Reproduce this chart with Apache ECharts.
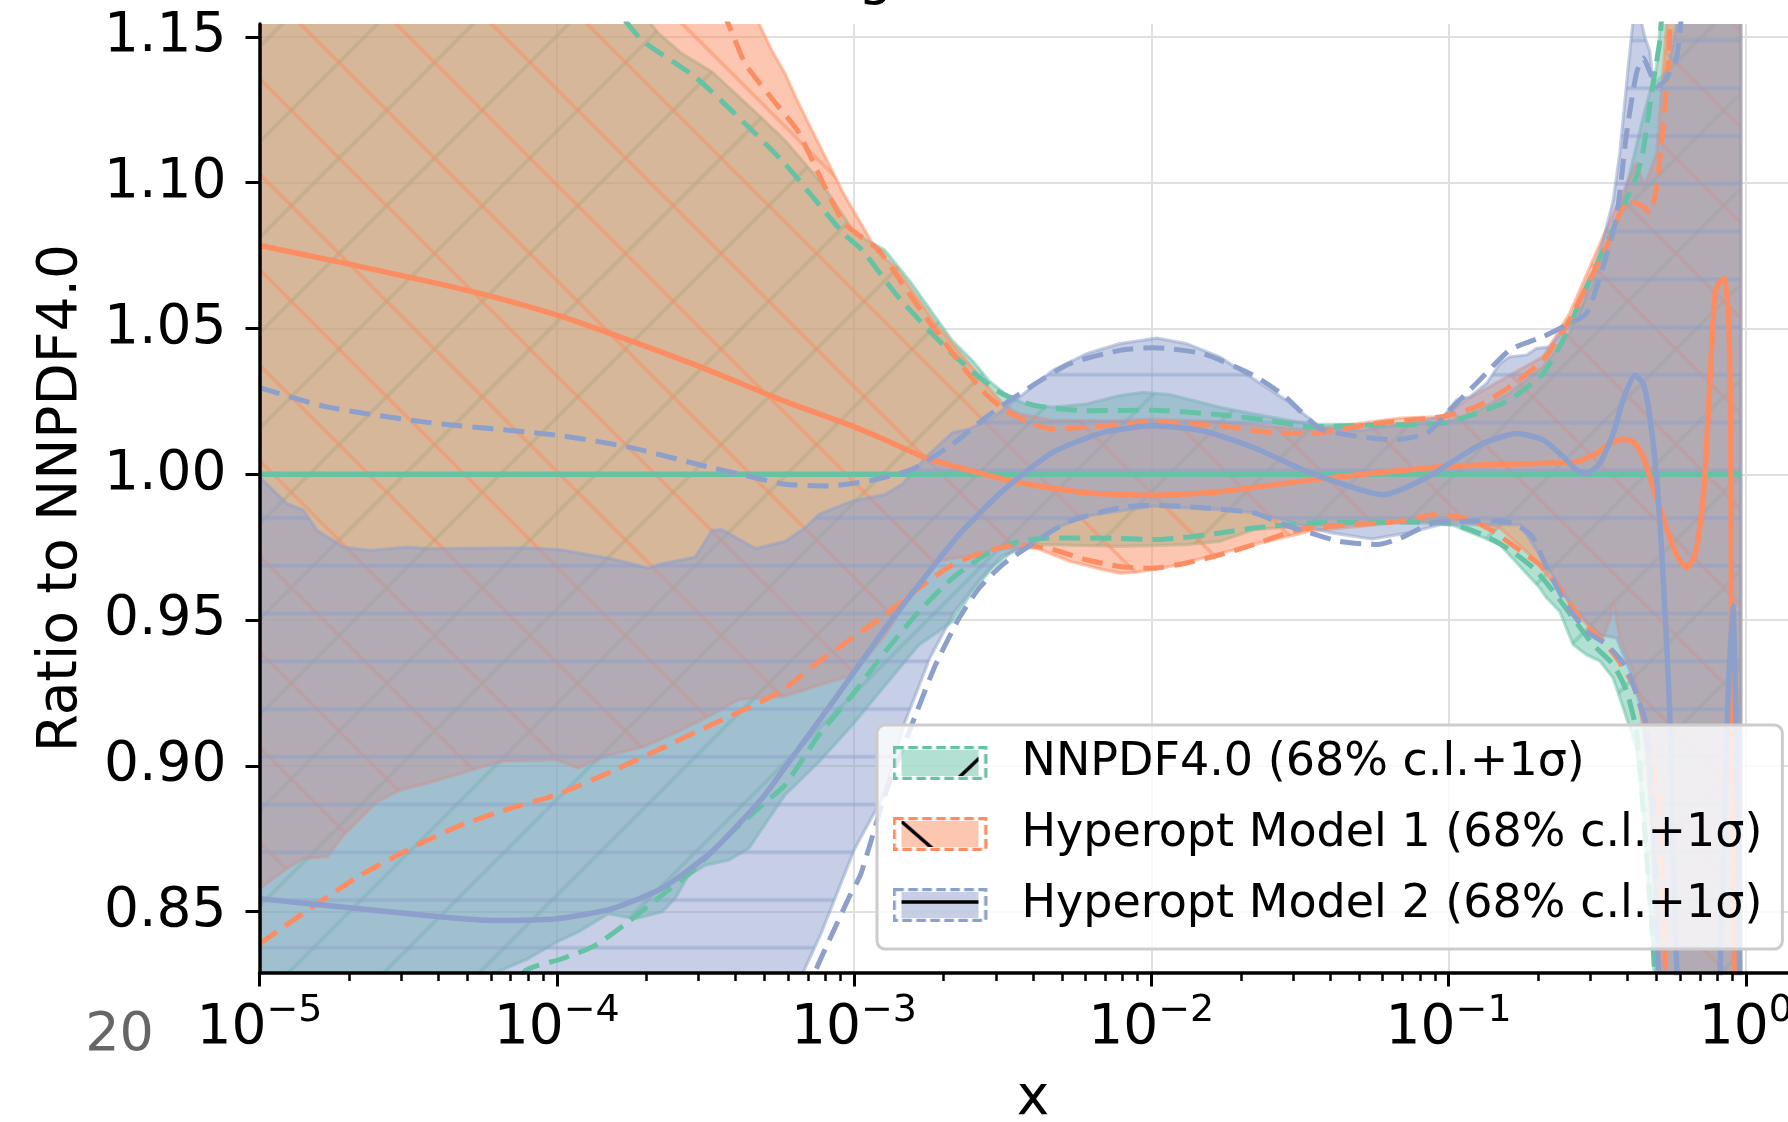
<!DOCTYPE html>
<html>
<head>
<meta charset="utf-8">
<title>g ratio to NNPDF4.0</title>
<script src="https://cdn.jsdelivr.net/npm/echarts@6.0.0/dist/echarts.min.js"></script>
<style>
    html, body { margin: 0; padding: 0; background: #fff; }
    #main { width: 1788px; height: 1122px; }
</style>
</head>
<body>
<div id="main"></div>
<script>
// every curve is a list of [log10(x), ratio]
var nnCentral = [[-5.0, 1.0], [-0.017, 1.0]];
var nnBandUp = [[-5.0,1.25],[-3.727,1.16],[-3.658,1.1512],[-3.580,1.1443],[-3.478,1.138],[-3.309,1.122],[-3.232,1.1144],[-3.111,1.1001],[-2.996,1.0825],[-2.897,1.0769],[-2.806,1.0654],[-2.726,1.0539],[-2.670,1.0459],[-2.602,1.039],[-2.546,1.0321],[-2.478,1.0264],[-2.422,1.0241],[-2.332,1.023],[-2.219,1.0241],[-2.106,1.027],[-2.028,1.0281],[-1.937,1.0273],[-1.769,1.023],[-1.656,1.0207],[-1.467,1.0172],[-1.245,1.017],[-1.018,1.0175],[-0.906,1.0215],[-0.794,1.028],[-0.682,1.0369],[-0.592,1.0484],[-0.513,1.0655],[-0.457,1.08],[-0.401,1.0986],[-0.345,1.1226],[-0.300,1.1398],[-0.282,1.16],[-0.017,1.25]];
var nnBandLo = [[-5.0,0.78],[-4.258,0.80],[-4.210,0.829],[-4.098,0.8338],[-4.001,0.8396],[-3.929,0.843],[-3.827,0.8493],[-3.737,0.8476],[-3.647,0.8499],[-3.602,0.8545],[-3.557,0.8625],[-3.500,0.866],[-3.422,0.8677],[-3.354,0.8717],[-3.309,0.8786],[-3.232,0.8901],[-3.119,0.9013],[-3.007,0.9139],[-2.895,0.9277],[-2.782,0.9415],[-2.669,0.9495],[-2.602,0.9598],[-2.534,0.9679],[-2.467,0.9736],[-2.388,0.976],[-2.240,0.9756],[-2.106,0.9753],[-1.881,0.9759],[-1.769,0.977],[-1.656,0.981],[-1.467,0.9825],[-1.164,0.9835],[-0.996,0.983],[-0.827,0.9759],[-0.693,0.961],[-0.670,0.9576],[-0.626,0.953],[-0.581,0.9416],[-0.536,0.9381],[-0.491,0.936],[-0.446,0.9301],[-0.401,0.9164],[-0.368,0.906],[-0.345,0.884],[-0.311,0.834],[-0.289,0.78],[-0.017,0.70]];
var nnSigUp = [[-5.0,1.30],[-3.805,1.16],[-3.714,1.1489],[-3.534,1.1362],[-3.366,1.1202],[-3.232,1.1064],[-3.035,1.0825],[-2.973,1.0769],[-2.861,1.062],[-2.759,1.0505],[-2.669,1.0413],[-2.579,1.0333],[-2.500,1.0275],[-2.388,1.0235],[-2.219,1.0218],[-1.994,1.022],[-1.769,1.0204],[-1.600,1.0184],[-1.467,1.0163],[-1.242,1.0169],[-1.018,1.0175],[-0.906,1.0209],[-0.794,1.0255],[-0.682,1.0346],[-0.615,1.046],[-0.536,1.0643],[-0.474,1.078],[-0.413,1.0918],[-0.368,1.102],[-0.345,1.1112],[-0.312,1.134],[-0.289,1.149],[-0.272,1.17],[-0.017,1.30]];
var nnSigLo = [[-4.225,0.81],[-4.109,0.8295],[-3.985,0.8338],[-3.872,0.8384],[-3.760,0.8465],[-3.647,0.8556],[-3.534,0.8648],[-3.422,0.8763],[-3.309,0.8866],[-3.232,0.8935],[-3.119,0.9105],[-3.007,0.9242],[-2.895,0.9392],[-2.782,0.9529],[-2.669,0.9644],[-2.557,0.9724],[-2.444,0.977],[-2.332,0.9782],[-2.106,0.978],[-1.994,0.9776],[-1.881,0.9784],[-1.769,0.9799],[-1.656,0.9816],[-1.467,0.9833],[-1.164,0.9836],[-0.996,0.983],[-0.885,0.9793],[-0.794,0.9741],[-0.715,0.9679],[-0.648,0.9599],[-0.581,0.9507],[-0.514,0.9416],[-0.446,0.9347],[-0.401,0.9256],[-0.368,0.9119],[-0.345,0.8844],[-0.312,0.8387],[-0.299,0.81]];

var m1Central = [[-5.0,1.0785],[-4.718,1.0725],[-4.290,1.0628],[-4.001,1.0547],[-3.839,1.049],[-3.534,1.0375],[-3.232,1.025],[-3.007,1.0166],[-2.913,1.0126],[-2.760,1.0057],[-2.602,1.0011],[-2.444,0.9971],[-2.219,0.9937],[-1.994,0.9928],[-1.769,0.994],[-1.467,0.998],[-1.019,1.0026],[-0.683,1.0038],[-0.569,1.0043],[-0.502,1.0072],[-0.457,1.0106],[-0.413,1.012],[-0.379,1.0112],[-0.345,1.006],[-0.323,0.9992],[-0.267,0.9816],[-0.233,0.9724],[-0.199,0.9679],[-0.171,0.9724],[-0.155,0.9816],[-0.138,0.9987],[-0.104,1.062],[-0.087,1.066],[-0.071,1.0672],[-0.056,1.048],[-0.050,0.998],[-0.047,0.914],[-0.040,0.85],[-0.034,0.80],[-0.017,0.78]];
var m1BandUp = [[-5.0,1.30],[-3.345,1.16],[-3.277,1.1454],[-3.232,1.1374],[-3.188,1.1275],[-3.035,1.0962],[-2.920,1.076],[-2.861,1.0712],[-2.726,1.0517],[-2.557,1.031],[-2.500,1.0241],[-2.444,1.0207],[-2.332,1.0184],[-2.106,1.0184],[-1.994,1.0189],[-1.769,1.018],[-1.467,1.0152],[-1.161,1.0193],[-1.018,1.0198],[-0.940,1.0255],[-0.794,1.034],[-0.682,1.0403],[-0.592,1.0553],[-0.480,1.0815],[-0.435,1.0918],[-0.390,1.102],[-0.368,1.1066],[-0.340,1.099],[-0.300,1.11],[-0.262,1.16],[-0.017,1.30]];
var m1BandLo = [[-5.0,0.8579],[-4.908,0.8648],[-4.852,0.8683],[-4.773,0.8688],[-4.717,0.8763],[-4.604,0.8878],[-4.525,0.8918],[-4.435,0.8941],[-4.322,0.8975],[-4.188,0.9016],[-4.001,0.9021],[-3.929,0.8993],[-3.839,0.9033],[-3.704,0.9067],[-3.591,0.9119],[-3.478,0.9176],[-3.388,0.9228],[-3.232,0.924],[-3.119,0.9277],[-3.007,0.9311],[-2.895,0.9449],[-2.812,0.958],[-2.726,0.9702],[-2.613,0.972],[-2.500,0.9747],[-2.388,0.9747],[-2.275,0.9702],[-2.163,0.9673],[-2.106,0.9661],[-2.050,0.9664],[-1.937,0.9684],[-1.825,0.9713],[-1.656,0.9759],[-1.467,0.9805],[-1.164,0.9835],[-0.940,0.984],[-0.827,0.9816],[-0.715,0.9713],[-0.626,0.96],[-0.536,0.9485],[-0.481,0.944],[-0.457,0.95],[-0.446,0.9564],[-0.424,0.9439],[-0.379,0.9324],[-0.345,0.9187],[-0.316,0.88],[-0.289,0.834],[-0.269,0.78],[-0.017,0.70]];
var m1SigUp = [[-5.0,1.30],[-3.455,1.16],[-3.366,1.1408],[-3.253,1.1259],[-3.189,1.1177],[-3.035,1.0864],[-2.917,1.0769],[-2.838,1.0654],[-2.759,1.0539],[-2.692,1.0448],[-2.624,1.0356],[-2.557,1.0275],[-2.489,1.0218],[-2.399,1.0172],[-2.332,1.0155],[-2.219,1.0161],[-1.994,1.0178],[-1.769,1.0166],[-1.600,1.0143],[-1.467,1.014],[-1.242,1.0175],[-1.018,1.0198],[-0.906,1.0232],[-0.794,1.03],[-0.682,1.0392],[-0.592,1.053],[-0.514,1.0689],[-0.469,1.078],[-0.424,1.0895],[-0.390,1.094],[-0.368,1.0929],[-0.345,1.0918],[-0.323,1.0895],[-0.300,1.0986],[-0.278,1.1192],[-0.261,1.1398],[-0.249,1.16],[-0.017,1.30]];
var m1SigLo = [[-5.0,0.839],[-4.831,0.851],[-4.661,0.8625],[-4.492,0.8717],[-4.323,0.8797],[-4.154,0.8855],[-4.001,0.8901],[-3.816,0.8981],[-3.647,0.9061],[-3.478,0.9142],[-3.309,0.9222],[-3.232,0.9266],[-3.119,0.9357],[-3.007,0.9438],[-2.895,0.9518],[-2.782,0.961],[-2.669,0.969],[-2.557,0.9736],[-2.444,0.9759],[-2.332,0.9742],[-2.219,0.9707],[-2.106,0.9684],[-1.994,0.9678],[-1.881,0.9696],[-1.769,0.9724],[-1.656,0.9759],[-1.543,0.9799],[-1.467,0.9816],[-1.164,0.9839],[-1.052,0.9861],[-0.940,0.985],[-0.850,0.9805],[-0.771,0.9747],[-0.693,0.969],[-0.626,0.961],[-0.558,0.9507],[-0.491,0.9439],[-0.435,0.9371],[-0.379,0.9278],[-0.357,0.921],[-0.323,0.9073],[-0.293,0.888],[-0.272,0.834],[-0.256,0.80],[-0.017,0.70]];

var m2Central = [[-5.0,0.8545],[-4.662,0.851],[-4.210,0.847],[-4.000,0.8476],[-3.816,0.851],[-3.647,0.858],[-3.478,0.8706],[-3.309,0.8889],[-3.232,0.8995],[-3.064,0.923],[-2.895,0.9472],[-2.782,0.9621],[-2.647,0.9793],[-2.500,0.9943],[-2.332,1.0075],[-2.163,1.0143],[-1.994,1.0166],[-1.825,1.0149],[-1.656,1.0092],[-1.467,1.0006],[-1.218,0.993],[-1.074,0.9988],[-0.962,1.006],[-0.884,1.0106],[-0.771,1.014],[-0.682,1.0118],[-0.614,1.006],[-0.570,1.0015],[-0.536,1.0003],[-0.491,1.0038],[-0.446,1.014],[-0.413,1.0255],[-0.373,1.034],[-0.345,1.031],[-0.323,1.0198],[-0.300,0.9987],[-0.278,0.9644],[-0.256,0.9187],[-0.232,0.83],[-0.188,0.78],[-0.114,0.78],[-0.081,0.85],[-0.061,0.92],[-0.044,0.955],[-0.034,0.92],[-0.024,0.85],[-0.017,0.80]];
var m2BandUp = [[-5.0,0.9991],[-4.908,0.990],[-4.852,0.9877],[-4.807,0.9808],[-4.717,0.975],[-4.627,0.9739],[-4.503,0.975],[-4.435,0.9745],[-4.098,0.9748],[-3.985,0.9741],[-3.816,0.971],[-3.692,0.9679],[-3.647,0.9693],[-3.534,0.9716],[-3.478,0.9808],[-3.444,0.981],[-3.331,0.9745],[-3.232,0.977],[-3.165,0.9816],[-3.119,0.9862],[-3.007,0.9908],[-2.895,0.9931],[-2.838,0.9966],[-2.760,1.0057],[-2.669,1.0143],[-2.613,1.0155],[-2.534,1.0195],[-2.444,1.0264],[-2.332,1.0356],[-2.219,1.0413],[-2.106,1.0448],[-1.982,1.0467],[-1.881,1.0448],[-1.769,1.0402],[-1.656,1.0327],[-1.543,1.0252],[-1.433,1.0163],[-1.298,1.015],[-1.164,1.017],[-1.018,1.0198],[-0.973,1.0255],[-0.928,1.0266],[-0.872,1.0312],[-0.827,1.038],[-0.794,1.0403],[-0.737,1.0409],[-0.704,1.0432],[-0.659,1.0437],[-0.614,1.0495],[-0.569,1.053],[-0.513,1.069],[-0.480,1.0803],[-0.446,1.094],[-0.424,1.11],[-0.401,1.134],[-0.379,1.156],[-0.362,1.16],[-0.340,1.15],[-0.323,1.145],[-0.312,1.134],[-0.289,1.1318],[-0.256,1.142],[-0.222,1.16],[-0.017,1.25]];
var m2BandLo = [[-5.0,0.70],[-3.190,0.81],[-3.172,0.829],[-3.111,0.8425],[-2.997,0.8718],[-2.899,0.89],[-2.829,0.915],[-2.745,0.937],[-2.661,0.953],[-2.577,0.964],[-2.502,0.972],[-2.399,0.9759],[-2.332,0.9811],[-2.219,0.9857],[-2.106,0.9874],[-1.994,0.9891],[-1.881,0.9885],[-1.769,0.9879],[-1.656,0.9868],[-1.543,0.984],[-1.399,0.98],[-1.258,0.9778],[-1.130,0.98],[-1.029,0.9827],[-0.939,0.9827],[-0.760,0.9827],[-0.693,0.9724],[-0.637,0.9633],[-0.581,0.9541],[-0.491,0.945],[-0.435,0.9439],[-0.390,0.9324],[-0.356,0.921],[-0.330,0.90],[-0.313,0.87],[-0.299,0.829],[-0.282,0.78],[-0.017,0.70]];
var m2SigUp = [[-5.0,1.0297],[-4.773,1.0231],[-4.435,1.0178],[-4.000,1.0134],[-3.760,1.0094],[-3.534,1.0036],[-3.366,0.9996],[-3.232,0.9966],[-3.086,0.996],[-2.951,0.9977],[-2.805,1.0017],[-2.669,1.0103],[-2.557,1.0195],[-2.444,1.0275],[-2.275,1.0379],[-2.106,1.0425],[-1.994,1.0434],[-1.825,1.0413],[-1.656,1.0339],[-1.550,1.0267],[-1.433,1.0157],[-1.298,1.0129],[-1.187,1.0118],[-1.074,1.014],[-0.996,1.022],[-0.906,1.0312],[-0.794,1.0426],[-0.682,1.0472],[-0.603,1.0512],[-0.536,1.0552],[-0.480,1.0712],[-0.435,1.0883],[-0.401,1.117],[-0.368,1.1375],[-0.345,1.1427],[-0.323,1.138],[-0.300,1.133],[-0.272,1.135],[-0.233,1.143],[-0.212,1.16],[-0.017,1.25]];
var m2SigLo = [[-3.182,0.81],[-3.132,0.829],[-3.073,0.8425],[-3.015,0.8553],[-2.977,0.863],[-2.896,0.89],[-2.793,0.9174],[-2.726,0.9346],[-2.647,0.9506],[-2.579,0.961],[-2.500,0.969],[-2.388,0.977],[-2.275,0.9839],[-2.106,0.9885],[-1.994,0.9894],[-1.825,0.9885],[-1.656,0.9868],[-1.550,0.9826],[-1.467,0.98],[-1.366,0.977],[-1.238,0.9759],[-1.164,0.978],[-1.052,0.9833],[-0.939,0.9839],[-0.827,0.984],[-0.771,0.9827],[-0.715,0.9782],[-0.670,0.968],[-0.603,0.9553],[-0.536,0.9462],[-0.468,0.9416],[-0.401,0.9336],[-0.356,0.921],[-0.334,0.9141],[-0.313,0.888],[-0.295,0.834],[-0.272,0.80],[-0.017,0.70]];

var yTicks = [0.85, 0.90, 0.95, 1.00, 1.05, 1.10, 1.15];
var xDecades = [-5, -4, -3, -2, -1, 0];

var GREEN = '102,194,165', ORANGE = '252,141,98', BLUE = '141,160,203';
var NAME_NN = 'NNPDF4.0 (68% c.l.+1σ)';
var NAME_M1 = 'Hyperopt Model 1 (68% c.l.+1σ)';
var NAME_M2 = 'Hyperopt Model 2 (68% c.l.+1σ)';

var decadeTicks = xDecades.map(function (e) { return Math.pow(10, e); });
var minorTicks = [];
xDecades.slice(0, -1).forEach(function (e) {
    for (var k = 2; k <= 9; k++) minorTicks.push(k * Math.pow(10, e));
});

function toXY(list) {
    return list.map(function (p) { return [Math.pow(10, p[0]), p[1]]; });
}

// hatch tiles, one period = 95.5px for diagonals, 47.75px for '-'
function hatchPattern(kind, rgb, ox, oy) {
    var size = 191;
    var c = document.createElement('canvas');
    c.width = size; c.height = size;
    var g = c.getContext('2d');
    g.strokeStyle = 'rgba(' + rgb + ',0.5)';
    g.lineWidth = 3.7;
    g.beginPath();
    var k, s;
    if (kind === '-') {
        for (k = 0; k <= 4; k++) { s = k * 47.75; g.moveTo(-5, s); g.lineTo(size + 5, s); }
    } else if (kind === '/') {
        for (k = 0; k <= 4; k++) { s = k * 95.5; g.moveTo(s + 10, -10); g.lineTo(-10, s + 10); }
    } else {
        for (k = -2; k <= 2; k++) { s = k * 95.5; g.moveTo(-10, s - 10); g.lineTo(size + 10, s + size + 10); }
    }
    g.stroke();
    return { type: 'pattern', image: c, repeat: 'repeat', x: ox, y: oy };
}

function legendIcon(rgb, kind) {
    var c = document.createElement('canvas');
    c.width = 124; c.height = 34;
    var g = c.getContext('2d');
    g.fillStyle = 'rgba(' + rgb + ',0.5)';
    g.fillRect(9, 4, 77, 26);
    g.save();
    g.beginPath(); g.rect(9, 4, 77, 26); g.clip();
    g.strokeStyle = '#000'; g.lineWidth = 3.5;
    g.beginPath();
    if (kind === '/') { g.moveTo(67, 31); g.lineTo(90, 9); }
    else if (kind === '\\') { g.moveTo(9, 4.5); g.lineTo(40, 31.5); }
    else { g.moveTo(9, 14); g.lineTo(86, 14); }
    g.stroke();
    g.restore();
    g.strokeStyle = 'rgb(' + rgb + ')';
    g.lineWidth = 3.3;
    g.setLineDash([9.7, 4.3]);
    g.strokeRect(1.7, 1.7, 91.6, 30.6);
    return 'image://' + c.toDataURL();
}

function bandSeries(name, upper, lower, rgb, pattern) {
    return {
        type: 'custom',
        name: name,
        coordinateSystem: 'cartesian2d',
        xAxisIndex: 0,
        yAxisIndex: 0,
        clip: true,
        silent: true,
        data: toXY(upper.concat(lower.slice().reverse())),
        renderItem: function (params, api) {
            if (params.dataIndexInside !== 0) return null;
            var pts = [];
            for (var i = 0; i < params.dataInsideLength; i++) {
                pts.push(api.coord([api.value(0, i), api.value(1, i)]));
            }
            return {
                type: 'group',
                children: [
                    { type: 'polygon', shape: { points: pts },
                      style: { fill: 'rgba(' + rgb + ',0.5)', stroke: 'rgba(' + rgb + ',0.5)', lineWidth: 3.2, lineJoin: 'round' } },
                    { type: 'polygon', shape: { points: pts }, style: { fill: pattern, stroke: null } }
                ]
            };
        }
    };
}

function lineSeries(name, list, rgb, dashed) {
    return {
        type: 'line',
        name: name,
        xAxisIndex: 0,
        yAxisIndex: 0,
        data: toXY(list),
        showSymbol: false,
        symbol: 'none',
        smooth: 0.2,
        silent: true,
        clip: true,
        lineStyle: {
            color: 'rgb(' + rgb + ')',
            width: dashed ? 5 : 5.5,
            type: dashed ? [21, 10] : 'solid',
            join: 'round'
        },
        emphasis: { disabled: true }
    };
}

var font = 'DejaVu Sans';
var xMin = 1e-5, xMax = 1.6, yMin = 0.8292, yMax = 1.1544;

var option = {
    animation: false,
    backgroundColor: '#ffffff',
    textStyle: { fontFamily: font },
    grid: { left: 259.5, right: -18.5, top: 24, bottom: 149.6, containLabel: false, outerBoundsMode: 'none' },
    xAxis: [
        {   // grid lines only, under the data
            type: 'log', min: xMin, max: xMax, z: 0,
            axisLine: { show: false }, axisTick: { show: false, customValues: decadeTicks },
            axisLabel: { show: false },
            splitLine: { show: true, lineStyle: { color: '#e0e0e0', width: 2 } }
        },
        {
            type: 'log', min: xMin, max: xMax, position: 'bottom', z: 5,
            axisLine: { show: true, onZero: false, lineStyle: { color: '#000', width: 3.5 } },
            axisTick: { show: true, customValues: decadeTicks, length: 14, lineStyle: { color: '#000', width: 3 } },
            axisLabel: {
                customValues: decadeTicks,
                margin: 20,
                formatter: function (v) {
                    var e = Math.round(Math.log10(v));
                    return '{b|10}{s|' + (e < 0 ? '\u2212' + (-e) : e) + '}';
                },
                rich: {
                    b: { fontSize: 55, lineHeight: 64, verticalAlign: 'bottom', color: '#000', fontFamily: font },
                    s: { fontSize: 38, lineHeight: 38, verticalAlign: 'top', color: '#000', fontFamily: font }
                }
            },
            splitLine: { show: false },
            name: 'x', nameLocation: 'middle', nameGap: 100,
            nameTextStyle: { fontSize: 55, lineHeight: 55, color: '#000', fontFamily: font }
        },
        {   // log minor ticks
            type: 'log', min: xMin, max: xMax, position: 'bottom', z: 5,
            axisLine: { show: false },
            axisTick: { show: true, inside: false, customValues: minorTicks, length: 8.5, lineStyle: { color: '#000', width: 2.5 } },
            axisLabel: { show: false },
            splitLine: { show: false }
        }
    ],
    yAxis: [
        {
            type: 'value', min: yMin, max: yMax, z: 0,
            axisLine: { show: false }, axisTick: { show: false, customValues: yTicks },
            axisLabel: { show: false },
            splitLine: { show: true, lineStyle: { color: '#e0e0e0', width: 2 } }
        },
        {
            type: 'value', min: yMin, max: yMax, position: 'left', z: 5,
            axisLine: { show: true, onZero: false, lineStyle: { color: '#000', width: 3.5 } },
            axisTick: { show: true, customValues: yTicks, length: 14, lineStyle: { color: '#000', width: 3 } },
            axisLabel: {
                customValues: yTicks, margin: 33, fontSize: 55, color: '#000', fontFamily: font,
                formatter: function (v) { return v.toFixed(2); }
            },
            splitLine: { show: false },
            name: 'Ratio to NNPDF4.0', nameLocation: 'middle', nameGap: 170,
            nameTextStyle: { fontSize: 55, lineHeight: 55, color: '#000', fontFamily: font }
        }
    ],
    legend: {
        orient: 'vertical', left: 877, top: 725, z: 10,
        padding: [15, 20, 21, 15.5],
        itemWidth: 124, itemHeight: 34, itemGap: 25,
        backgroundColor: 'rgba(255,255,255,0.8)', borderColor: '#cccccc', borderWidth: 3, borderRadius: 8,
        selectedMode: false,
        textStyle: { fontSize: 46, lineHeight: 34, color: '#000', fontFamily: font },
        data: [
            { name: NAME_NN, icon: legendIcon(GREEN, '/') },
            { name: NAME_M1, icon: legendIcon(ORANGE, '\\') },
            { name: NAME_M2, icon: legendIcon(BLUE, '-') }
        ]
    },
    graphic: [
        { type: 'text', x: 119.5, y: 1036, z: 100,
          style: { text: '20', fill: '#666666', font: '54px "DejaVu Sans"', align: 'center', verticalAlign: 'middle' } },
        { type: 'text', x: 858, y: -21, z: 100,
          style: { text: 'g', fill: '#000000', font: '55px "DejaVu Sans"', align: 'left', verticalAlign: 'middle' } }
    ],
    series: [
        bandSeries(NAME_NN, nnBandUp, nnBandLo, GREEN, hatchPattern('/', GREEN, 19.5, 0)),
        bandSeries(NAME_M1, m1BandUp, m1BandLo, ORANGE, hatchPattern('\\', ORANGE, 0, 10)),
        bandSeries(NAME_M2, m2BandUp, m2BandLo, BLUE, hatchPattern('-', BLUE, 0, 40.5)),
        lineSeries('nn central', nnCentral, GREEN, false),
        lineSeries('nn 1sigma up', nnSigUp, GREEN, true),
        lineSeries('nn 1sigma down', nnSigLo, GREEN, true),
        lineSeries('m1 central', m1Central, ORANGE, false),
        lineSeries('m1 1sigma up', m1SigUp, ORANGE, true),
        lineSeries('m1 1sigma down', m1SigLo, ORANGE, true),
        lineSeries('m2 central', m2Central, BLUE, false),
        lineSeries('m2 1sigma up', m2SigUp, BLUE, true),
        lineSeries('m2 1sigma down', m2SigLo, BLUE, true)
    ]
};

var myChart = echarts.init(document.getElementById('main'), null, { renderer: 'canvas', devicePixelRatio: 1 });
myChart.setOption(option);
</script>
</body>
</html>
